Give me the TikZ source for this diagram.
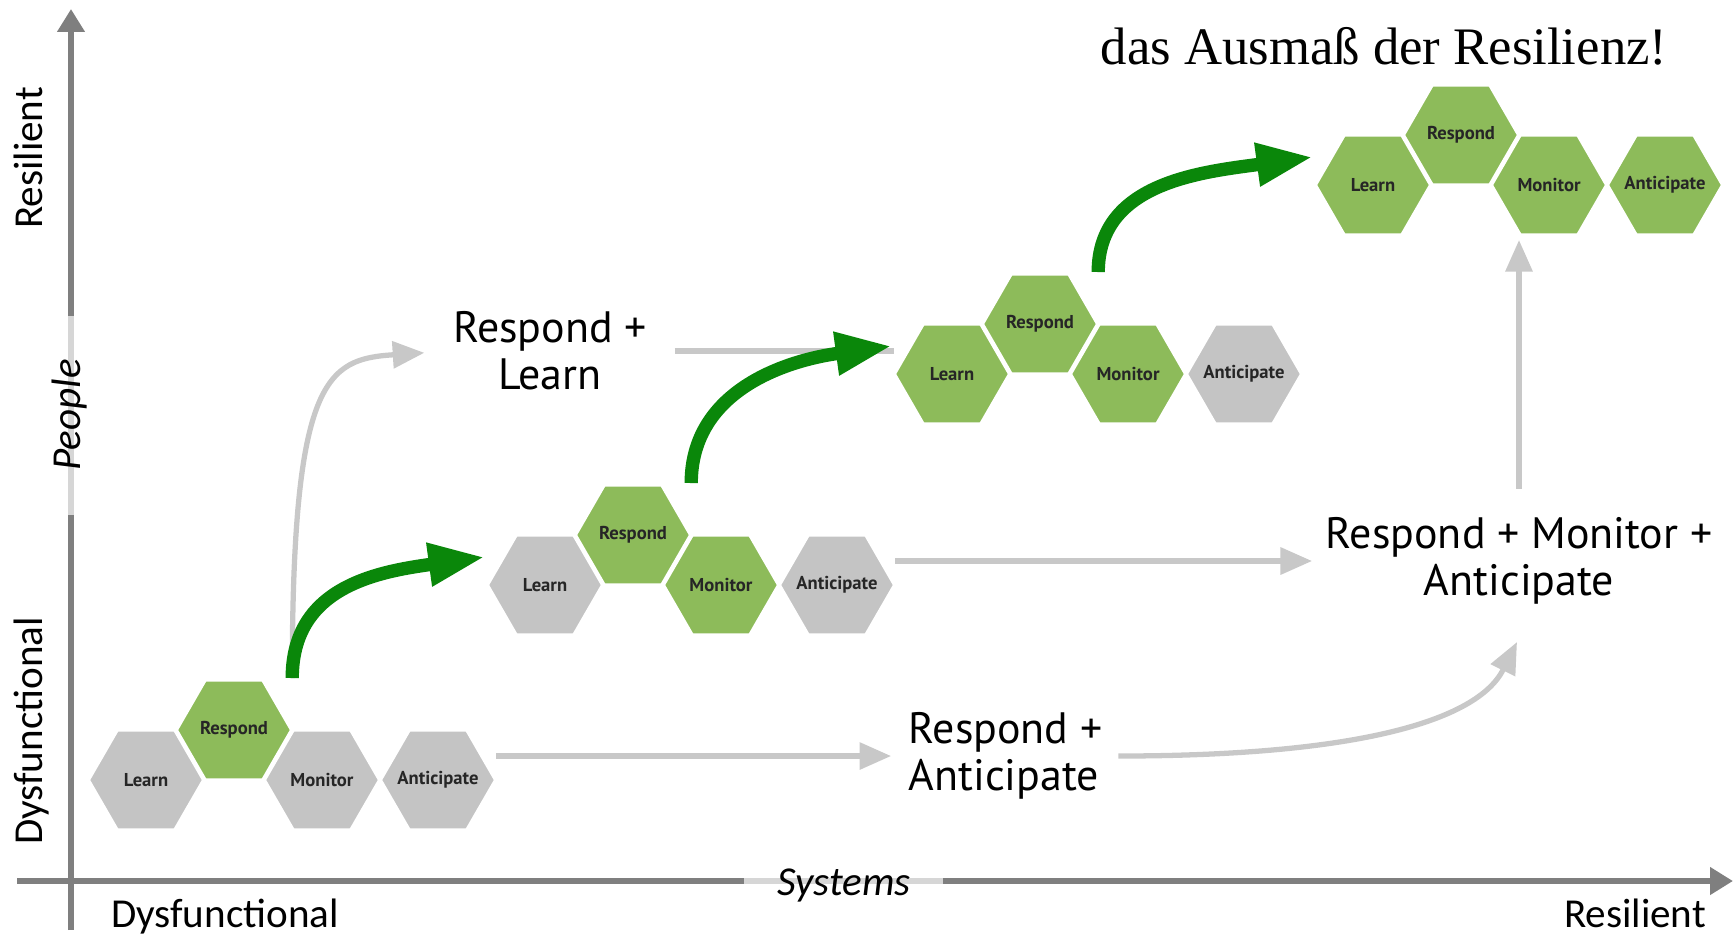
\documentclass[tikz,border=0pt]{standalone}
\usepackage{fontspec}
\setmainfont{Liberation Serif}
\newfontfamily\ptsans{PT Sans}
\newfontfamily\carlito{Carlito}
\usetikzlibrary{arrows.meta,shapes.geometric,calc}

\definecolor{hexgreen}{HTML}{8DBB5A}
\definecolor{hexgray}{HTML}{C4C4C4}
\definecolor{arrgreen}{HTML}{0A870A}
\definecolor{arrgray}{HTML}{C8C8C8}
\definecolor{axisgray}{HTML}{7F7F7F}
\definecolor{axislight}{HTML}{D6D6D6}

\begin{document}
\begin{tikzpicture}[x=0.1mm,y=-0.1mm,
        hex/.style={regular polygon,regular polygon sides=6,
            minimum size=11.4mm,inner sep=-2pt,draw=white,line width=0.6pt,
            font=\ptsans\bfseries\fontsize{5.3}{6}\selectfont,text=black!85},
        grn/.style={draw=arrgreen,line width=3.8pt,-{Triangle[length=16pt,width=11.5pt]}},
        gry/.style={draw=arrgray,line width=1.5pt,-{Triangle[length=9pt,width=7.5pt]}},
        lbl/.style={font=\ptsans\fontsize{12.5}{13.3}\selectfont,align=center,inner sep=0pt},
        ax/.style={draw=axisgray,line width=1.7pt,-{Triangle[length=6.5pt,width=7.5pt]}},
        axtxt/.style={font=\carlito\fontsize{11.7}{14}\selectfont}]
\useasboundingbox (0,0) rectangle (1736,936);

% axes
\coordinate (o1) at (71,930);
\coordinate (yt) at (71,9);
\coordinate (o2) at (17,881);
\coordinate (xt) at (1733,881);
\draw[ax] (o1) -- (yt);
\draw[ax] (o2) -- (xt);
\draw[axislight,line width=1.7pt] (71,316) -- (71,515);
\draw[axislight,line width=1.7pt] (744,881) -- (943,881);

\node[axtxt,rotate=90,anchor=base] (yres) at (42,158) {Resilient};
\node[axtxt,rotate=90,anchor=base] (ydys) at (43,731) {Dysfunctional};
\node[axtxt,rotate=90,anchor=base,font=\carlito\itshape\fontsize{11.7}{14}\selectfont] (ypeo) at (80,415) {People};
\node[axtxt,anchor=base] (xdys) at (225,927) {Dysfunctional};
\node[axtxt,anchor=base] (xres) at (1635,927) {Resilient};
\node[axtxt,anchor=base,font=\carlito\itshape\fontsize{11.7}{14}\selectfont] (xsys) at (844,895) {Systems};

\node[anchor=base,font=\fontsize{15}{18}\selectfont] (title) at (1384,64) {das Ausmaß der Resilienz!};

% hexagon groups
\foreach \n/\x/\y/\fl/\fr/\fm/\fa in {1/146/780/hexgray/hexgreen/hexgray/hexgray,
        2/545/585/hexgray/hexgreen/hexgreen/hexgray,
        3/952/374/hexgreen/hexgreen/hexgreen/hexgray,
        4/1373/185/hexgreen/hexgreen/hexgreen/hexgreen}{
    \node[hex,fill=\fl] (l\n) at (\x,\y) {Learn};
    \node[hex,fill=\fr] (r\n) at ($(l\n)+(88,-50)$) {Respond};
    \node[hex,fill=\fm] (m\n) at ($(l\n)+(176,0)$) {Monitor};
    \node[hex,fill=\fa] (a\n) at ($(l\n)+(292,0)$) {Anticipate};
}

% labels
\node[lbl] (rl) at (550,351) {Respond +\\Learn};
\node[lbl,align=left,anchor=west] (ra) at (908,756) {Respond +\\Anticipate};
\node[lbl] (rma) at (1519,561) {Respond + Monitor +\\Anticipate};
\coordinate (q4) at ($(rma.center)+(-2,81)$);

% grey paths
\coordinate (s1) at ($(r1.east)+(0,-52)$);
\draw[gry,shorten >=8pt] (s1) .. controls +(0,-300) and +(-126,8) .. (rl.west);
\draw[gry,-,shorten <=7.7pt] (rl.east) -- (rl.east -| l3.west);
\draw[gry,shorten >=4.8pt] (a1.east |- ra.west) -- (ra.west);
\draw[gry,shorten <=4.3pt] (ra.east) .. controls +(250,0) and +(-40,80) .. (q4);
\draw[gry,shorten >=3.7pt] (a2.east |- rma.west) -- (rma.west);
\draw[gry,shorten <=8pt,shorten >=1.3pt] (rma.north) -- (rma.north |- m4.south);

% green steps
\foreach \n/\m in {1/2,2/3,3/4}{
    \coordinate (s\n) at ($(r\n.east)+(0,-52)$);
    \coordinate (t\n) at ($(l\m.west)+(-2,-28)$);
    \draw[grn] (s\n) .. controls +(0,-90) and +(-110,15) .. (t\n);
}
\end{tikzpicture}
\end{document}
